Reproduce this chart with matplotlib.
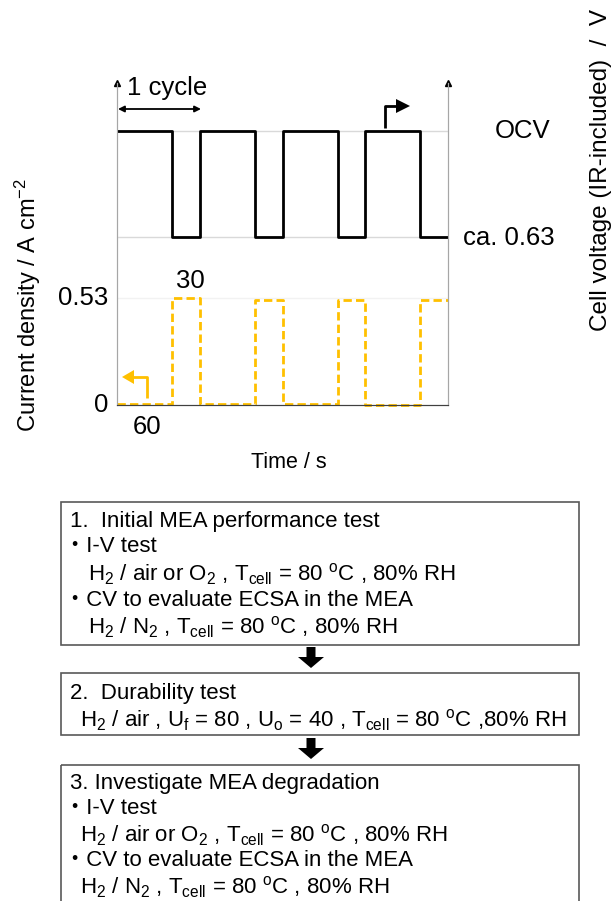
import numpy as np
import matplotlib
matplotlib.use('Agg')
import matplotlib.pyplot as plt
from matplotlib.patches import Rectangle, Polygon

plt.rcParams['font.family'] = ['Liberation Sans', 'Noto Sans CJK JP', 'DejaVu Sans']
plt.rcParams['mathtext.fontset'] = 'custom'
plt.rcParams['mathtext.rm'] = 'Liberation Sans'
plt.rcParams['mathtext.it'] = 'Liberation Sans:italic'
plt.rcParams['mathtext.bf'] = 'Liberation Sans:bold'

# data
step_times = [0, 60, 90, 150, 180, 240, 270, 330, 360]
voltage = [0.95, 0.63, 0.95, 0.63, 0.95, 0.63, 0.95, 0.63]   # OCV / ca. 0.63 V
current = [0.005, 0.53, 0.005, 0.52, 0.003, 0.52, 0.0, 0.52]  # A cm-2
ocv = 0.95
v_low = 0.63
j_high = 0.53

box1_lines = ["1.  Initial MEA performance test",
              "\u30fbI-V test",
              r"H$_2$ / air or O$_2$ , T$_{\mathrm{cell}}$ = 80 $^{\mathrm{o}}$C , 80% RH",
              "\u30fbCV to evaluate ECSA in the MEA",
              r"H$_2$ / N$_2$ , T$_{\mathrm{cell}}$ = 80 $^{\mathrm{o}}$C , 80% RH"]
box2_lines = ["2.  Durability test",
              r"H$_2$ / air , U$_{\mathrm{f}}$ = 80 , U$_{\mathrm{o}}$ = 40 , T$_{\mathrm{cell}}$ = 80 $^{\mathrm{o}}$C ,80% RH"]
box3_lines = ["3. Investigate MEA degradation",
              "\u30fbI-V test",
              r"H$_2$ / air or O$_2$ , T$_{\mathrm{cell}}$ = 80 $^{\mathrm{o}}$C , 80% RH",
              "\u30fbCV to evaluate ECSA in the MEA",
              r"H$_2$ / N$_2$ , T$_{\mathrm{cell}}$ = 80 $^{\mathrm{o}}$C , 80% RH"]

W, H = 614, 901
fig = plt.figure(figsize=(W / 100, H / 100), dpi=100)

# chart area in pixels
x0, x1, y_top, y_bot = 117, 448, 83, 405
ax = fig.add_axes([x0 / W, 1 - y_bot / H, (x1 - x0) / W, (y_bot - y_top) / H])
ax2 = ax.twinx()

orange = '#FFC000'
ax.step(step_times, current + [current[-1]], where='post', color=orange,
        lw=2.0, ls=(0, (3.0, 1.5)), clip_on=False)
ax.set_xlim(0, 360)
ax.set_ylim(0, j_high * (y_bot - y_top) / (y_bot - 298))
ax.axhline(j_high, color='#F2F2F2', lw=1, zorder=0)

ax2.step(step_times, voltage + [voltage[-1]], where='post', color='black', lw=2.0)
pxv = (237 - 131) / (ocv - v_low)
ax2.set_ylim(v_low - (y_bot - 237) / pxv, ocv + (131 - y_top) / pxv)
ax2.axhline(ocv, color='#D9D9D9', lw=1, zorder=0)
ax2.axhline(v_low, color='#D9D9D9', lw=1, zorder=0)

for a in (ax, ax2):
    a.spines['top'].set_visible(False)
    a.spines['left'].set_color('#A6A6A6')
    a.spines['right'].set_color('#A6A6A6')
    a.spines['bottom'].set_color('#404040')
    a.set_xticks([])
    a.set_yticks([])
    a.patch.set_visible(False)
# little arrowheads at the top of both axis lines
ax.plot([0, 360], [ax.get_ylim()[1]] * 2, ls='none', marker='^', ms=4,
        color='black', clip_on=False)

fs = 18.5
ax.text(-9 / (x1 - x0) * 360, j_high, '0.53', ha='right', va='center', fontsize=fs)
ax.text(-9 / (x1 - x0) * 360, 0, '0', ha='right', va='center', fontsize=fs)

# overlay in pixel coordinates for labels and flowchart
ov = fig.add_axes([0, 0, 1, 1])
ov.set_xlim(0, W)
ov.set_ylim(H, 0)
ov.axis('off')
ov.patch.set_visible(False)

ov.text(28, 305, 'Current density / A cm$^{-2}$', rotation=90, ha='center',
        va='center', fontsize=17)
ov.text(601, 170, 'Cell voltage (IR-included)  /  V', rotation=90, ha='center',
        va='center', fontsize=17.5)
ov.text(495, 131, 'OCV', ha='left', va='center', fontsize=fs)
ov.text(463, 238, 'ca. 0.63', ha='left', va='center', fontsize=fs)
ov.text(190, 281, '30', ha='center', va='center', fontsize=fs)
ov.text(147, 427, '60', ha='center', va='center', fontsize=fs)
ov.text(289, 462, 'Time / s', ha='center', va='center', fontsize=15.5)
ov.text(127, 88, '1 cycle', ha='left', va='center', fontsize=fs)

ov.annotate('', xy=(118, 109), xytext=(201, 109),
            arrowprops=dict(arrowstyle='<|-|>', color='black', lw=1.3,
                            mutation_scale=9, shrinkA=0, shrinkB=0))
ov.plot([385, 385, 398], [128, 106, 106], color='black', lw=2.0,
        solid_capstyle='butt')
ov.add_patch(Polygon([[396, 99], [410, 106], [396, 113]], closed=True,
                     color='black', lw=0))
ov.plot([147, 147, 132], [398, 377, 377], color=orange, lw=2.0,
        solid_capstyle='butt')
ov.add_patch(Polygon([[134, 370], [122, 377], [134, 384]], closed=True,
                     color=orange, lw=0))

# flowchart
bfs = 16
edge = '#595959'
ov.add_patch(Rectangle((61, 502), 518, 143, fill=False, ec=edge, lw=1.2))
ov.add_patch(Rectangle((61, 673), 518, 62, fill=False, ec=edge, lw=1.2))
ov.add_patch(Rectangle((61, 765), 518, 150, fill=False, ec=edge, lw=1.2))

rows1 = [521, 547, 574, 600, 627]
for s, xx, yy in zip(box1_lines, [70, 64, 88, 64, 88], rows1):
    ov.text(xx, yy, s, ha='left', va='center', fontsize=bfs)
ov.text(70, 694, box2_lines[0], ha='left', va='center', fontsize=bfs)
ov.text(80, 720, box2_lines[1], ha='left', va='center', fontsize=bfs)
rows3 = [783, 808, 835, 860, 887]
for s, xx, yy in zip(box3_lines, [70, 64, 80, 64, 80], rows3):
    ov.text(xx, yy, s, ha='left', va='center', fontsize=bfs)


def block_arrow(xc, ytop, ybot):
    sw, hw, hl = 4.5, 13, 11
    pts = [[xc - sw, ytop], [xc + sw, ytop], [xc + sw, ybot - hl],
           [xc + hw, ybot - hl], [xc, ybot], [xc - hw, ybot - hl],
           [xc - sw, ybot - hl]]
    ov.add_patch(Polygon(pts, closed=True, color='black', lw=0))


block_arrow(311, 647, 668)
block_arrow(311, 738, 759)

fig.savefig('out.png', dpi=100)
